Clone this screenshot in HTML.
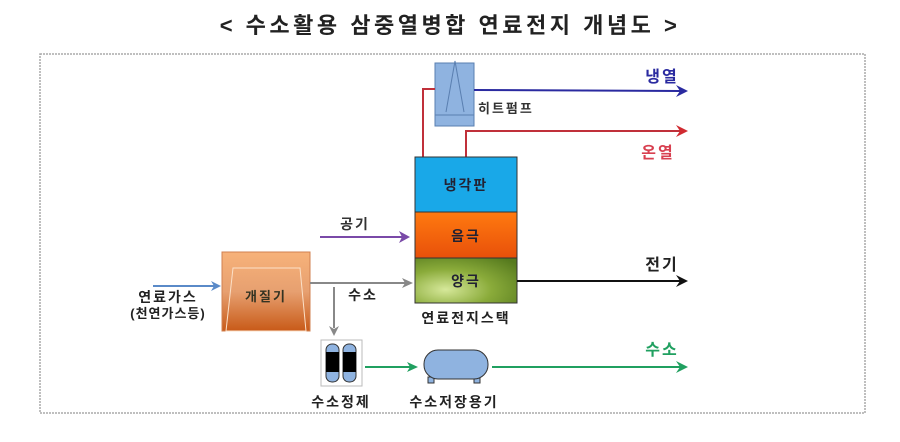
<!DOCTYPE html>
<html><head><meta charset="utf-8"><style>
body{margin:0;background:#fff;width:900px;height:437px;overflow:hidden;font-family:"Liberation Sans","Noto Sans CJK KR",sans-serif}
</style></head><body>
<svg width="900" height="437" xmlns="http://www.w3.org/2000/svg" font-family="Liberation Sans, Noto Sans CJK KR, sans-serif">
<defs>
<linearGradient id="og" x1="0" y1="0" x2="0" y2="1"><stop offset="0" stop-color="#f7b27a"/><stop offset="0.5" stop-color="#e7a070"/><stop offset="1" stop-color="#c85a18"/></linearGradient>
<radialGradient id="gg" cx="0.3" cy="0.7" r="0.9"><stop offset="0" stop-color="#d6e89a"/><stop offset="0.5" stop-color="#8aab3a"/><stop offset="1" stop-color="#567a1e"/></radialGradient>
<linearGradient id="rg" x1="0" y1="0" x2="0" y2="1"><stop offset="0" stop-color="#ff7a10"/><stop offset="1" stop-color="#e8500a"/></linearGradient>
</defs>
<text x="450" y="33" text-anchor="middle" font-size="22" letter-spacing="3.5" fill="#222" font-weight="bold">&lt; 수소활용 삼중열병합 연료전지 개념도 &gt;</text>
<rect x="40" y="54" width="825" height="359" fill="none" stroke="#aaa" stroke-width="1.5" stroke-dasharray="2,1"/>
<g font-weight="bold" letter-spacing="2">
<rect x="435" y="63" width="39" height="63" fill="#8fb3e0" stroke="#5a7fb0"/>
<line x1="435" y1="115" x2="474" y2="115" stroke="#5a7fb0"/>
<polyline points="446,112 455,61 464,112" fill="none" stroke="#5a7fb0"/>
<text x="478" y="113" font-size="13" fill="#333">히트펌프</text>
<polyline points="423,157 423,89 435,89" fill="none" stroke="#c0303a" stroke-width="2"/>
<line x1="474" y1="90" x2="680" y2="91" stroke="#2a2aa0" stroke-width="2"/>
<polygon points="688,91 676,85 680,91 676,97" fill="#2a2aa0"/>
<text x="662" y="82" text-anchor="middle" font-size="16" fill="#2a2aa0">냉열</text>
<polyline points="466,157 466,131 680,131" fill="none" stroke="#c0303a" stroke-width="2"/>
<polygon points="688,131 676,125 680,131 676,137" fill="#d02a30"/>
<text x="658" y="158" text-anchor="middle" font-size="16" fill="#d84050">온열</text>
<rect x="415" y="157" width="102" height="55" fill="#19a8e8" stroke="#333"/>
<rect x="415" y="212" width="102" height="46" fill="url(#rg)" stroke="#333"/>
<rect x="415" y="258" width="102" height="45" fill="url(#gg)" stroke="#333"/>
<text x="466" y="190" text-anchor="middle" font-size="14" fill="#223">냉각판</text>
<text x="466" y="241" text-anchor="middle" font-size="14" fill="#223">음극</text>
<text x="466" y="286" text-anchor="middle" font-size="14" fill="#223">양극</text>
<text x="466" y="323" text-anchor="middle" font-size="14" fill="#222">연료전지스택</text>
<line x1="320" y1="237" x2="402" y2="237" stroke="#7a4aa8" stroke-width="2"/>
<polygon points="410,237 399,231 402,237 399,243" fill="#7a4aa8"/>
<text x="355" y="229" text-anchor="middle" font-size="14" fill="#333">공기</text>
<line x1="517" y1="281" x2="680" y2="281" stroke="#111" stroke-width="2"/>
<polygon points="688,281 676,275 680,281 676,287" fill="#111"/>
<text x="662" y="270" text-anchor="middle" font-size="16" fill="#222">전기</text>
<rect x="222" y="252" width="88" height="79" fill="url(#og)" stroke="#d08050"/>
<polygon points="233,268 300,268 306,331 226,331" fill="none" stroke="#fbe0c8" stroke-width="1"/>
<text x="266" y="301" text-anchor="middle" font-size="13" fill="#332">개질기</text>
<line x1="153" y1="286" x2="214" y2="286" stroke="#5a8ac8" stroke-width="2"/>
<polygon points="221,286 211,281 214,286 211,291" fill="#5a8ac8"/>
<text x="168" y="302" text-anchor="middle" font-size="14" fill="#222">연료가스</text>
<text x="168" y="318" text-anchor="middle" font-size="13" fill="#222" letter-spacing="1">(천연가스등)</text>
<line x1="310" y1="283" x2="405" y2="283" stroke="#888" stroke-width="2"/>
<polygon points="413,283 402,278 405,283 402,288" fill="#888"/>
<line x1="334" y1="287" x2="334" y2="328" stroke="#888" stroke-width="2"/>
<polygon points="334,336 329,326 334,329 339,326" fill="#888"/>
<text x="363" y="300" text-anchor="middle" font-size="14" fill="#222">수소</text>
<rect x="321" y="340" width="41" height="46" fill="#fff" stroke="#bbb"/>
<rect x="326" y="344" width="13" height="38" rx="6" fill="#8fb3e0" stroke="#333"/>
<rect x="343" y="344" width="13" height="38" rx="6" fill="#8fb3e0" stroke="#333"/>
<rect x="326" y="352" width="13" height="20" fill="#000"/>
<rect x="343" y="352" width="13" height="20" fill="#000"/>
<text x="341" y="407" text-anchor="middle" font-size="14" fill="#222">수소정제</text>
<line x1="365" y1="367" x2="410" y2="367" stroke="#20a060" stroke-width="2"/>
<polygon points="418,367 407,362 410,367 407,372" fill="#20a060"/>
<rect x="428" y="377" width="6" height="6" fill="#8fb3e0" stroke="#333"/>
<rect x="474" y="377" width="6" height="6" fill="#8fb3e0" stroke="#333"/>
<rect x="424" y="350" width="64" height="29" rx="14" fill="#8fb3e0" stroke="#333"/>
<text x="454" y="407" text-anchor="middle" font-size="14" fill="#222">수소저장용기</text>
<line x1="492" y1="367" x2="680" y2="367" stroke="#20a060" stroke-width="2"/>
<polygon points="688,367 676,361 680,367 676,373" fill="#20a060"/>
<text x="662" y="355" text-anchor="middle" font-size="16" fill="#20a060">수소</text>
</g>
</svg>
</body></html>
